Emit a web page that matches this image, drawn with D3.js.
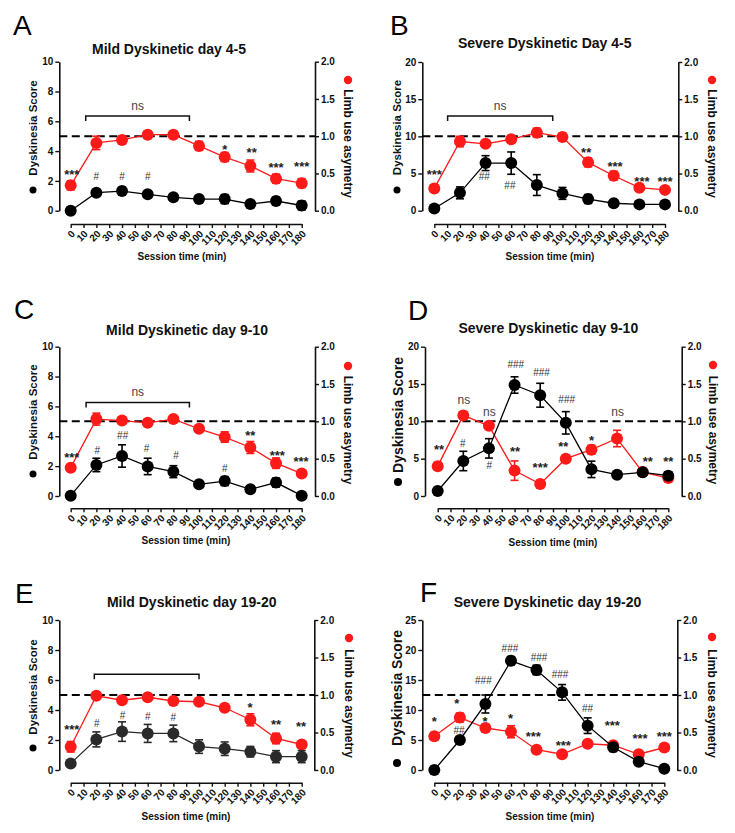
<!DOCTYPE html>
<html><head><meta charset="utf-8">
<script src="https://cdn.jsdelivr.net/npm/d3@7"></script>
<style>body{margin:0;background:#fff} text{font-family:"Liberation Sans",Arial,sans-serif}</style>
</head><body><svg id="c" width="735" height="833"></svg>
<script>
// ---------------- DATA ----------------
const times = [0,20,40,60,80,100,120,140,160,180];
const xTicks = [0,10,20,30,40,50,60,70,80,90,100,110,120,130,140,150,160,170,180];
const rightTicks = [0,0.5,1.0,1.5,2.0];
const letters = ["A","B","C","D","E","F"];
const titles = ["Mild Dyskinetic day 4-5","Severe Dyskinetic Day 4-5","Mild Dyskinetic day 9-10",
                "Severe Dyskinetic day 9-10","Mild Dyskinetic day 19-20","Severe Dyskinetic day 19-20"];
const leftMax = [10,20,10,20,10,25];
const leftTicks = [[0,2,4,6,8,10],[0,5,10,15,20],[0,2,4,6,8,10],[0,5,10,15,20],[0,2,4,6,8,10],[0,5,10,15,20,25]];
const yLabel = "Dyskinesia Score";
const rLabel = "Limb use asymetry";
const xLabel = "Session time (min)";

// Dyskinesia score (left axis) mean / SEM
const dysA = [0,1.21,1.32,1.1,0.9,0.78,0.78,0.45,0.65,0.35];
const dysErrA = [0,0.1,0.25,0.1,0.1,0.1,0.3,0.1,0.25,0.3];
const dysB = [0.3,2.4,6.4,6.4,3.45,2.33,1.57,1.0,0.85,0.85];
const dysErrB = [0.2,0.8,1.0,1.5,1.4,0.8,0.6,0.2,0.2,0.2];
const dysC = [0.02,2.08,2.68,1.98,1.63,0.78,1.0,0.45,0.9,0.02];
const dysErrC = [0.05,0.45,0.75,0.55,0.4,0.15,0.3,0.1,0.3,0.05];
const dysD = [0.67,4.69,6.38,14.87,13.5,9.8,3.57,2.86,3.17,2.72];
const dysErrD = [0.4,1.3,1.3,1.1,1.6,1.5,1.1,0.3,0.4,0.5];
const dysE = [0.44,2.04,2.56,2.44,2.44,1.56,1.42,1.22,0.89,0.89];
const dysErrE = [0.1,0.5,0.65,0.6,0.55,0.45,0.45,0.35,0.4,0.4];
const dysF = [0,5.0,11.0,18.2,16.67,12.94,7.39,3.78,1.39,0.22];
const dysErrF = [0.1,0.5,1.5,0.7,0.8,1.3,1.3,0.7,0.6,0.1];

// Limb use asymmetry (right axis) mean / SEM
const limbA = [0.34,0.91,0.95,1.02,1.02,0.87,0.72,0.60,0.43,0.37];
const limbErrA = [0.06,0.09,0.05,0.05,0.05,0.06,0.06,0.08,0.06,0.06];
const limbB = [0.30,0.93,0.90,0.96,1.05,0.99,0.65,0.47,0.31,0.28];
const limbErrB = [0.05,0.07,0.03,0.03,0.06,0.05,0.06,0.06,0.03,0.03];
const limbC = [0.38,1.03,1.01,0.98,1.03,0.90,0.79,0.65,0.44,0.30];
const limbErrC = [0.04,0.08,0.04,0.04,0.04,0.04,0.07,0.08,0.07,0.04];
const limbD = [0.40,1.08,0.94,0.34,0.16,0.50,0.62,0.77,0.32,0.24];
const limbErrD = [0.05,0.05,0.04,0.13,0.05,0.03,0.06,0.11,0.03,0.03];
const limbE = [0.31,0.99,0.93,0.97,0.92,0.91,0.83,0.67,0.42,0.34];
const limbErrE = [0.07,0.03,0.03,0.03,0.03,0.03,0.03,0.08,0.07,0.03];
const limbF = [0.45,0.70,0.56,0.51,0.27,0.21,0.35,0.33,0.21,0.30];
const limbErrF = [0.05,0.06,0.05,0.08,0.04,0.02,0.02,0.02,0.02,0.02];

// significance annotations: [time, left-axis value, text]
const annA = [[0.8,2.62,"***"],[20,2.28,"#"],[40,2.28,"#"],[60,2.28,"#"],[120,4.3,"*"],[141,4.07,"**"],[160,3.06,"***"],[180,3.18,"***"]];
const annB = [[0,5.25,"***"],[39,4.57,"##"],[59,3.45,"##"],[118.5,8.25,"**"],[141,6.37,"***"],[162,4.35,"***"],[180,4.35,"***"]];
const annC = [[0.8,2.75,"***"],[20.8,3.08,"#"],[40.5,4.08,"##"],[59,3.19,"#"],[82,2.75,"#"],[120,1.85,"#"],[140,4.2,"**"],[161,2.92,"***"],[179.5,2.52,"***"]];
const annD = [[1,6.6,"**"],[20.5,12.77,"ns"],[19.5,7.05,"#"],[40.3,11.16,"ns"],[40.3,4.15,"#"],[61,17.63,"###"],[60.4,6.29,"**"],
              [81,16.5,"###"],[80,4.24,"***"],[100.7,12.95,"###"],[98,6.96,"**"],[120,7.81,"*"],[140.5,11.07,"ns"],[164,5.04,"**"],[180,5.04,"**"]];
const annE = [[0.8,2.89,"***"],[20.3,3.11,"#"],[40.3,3.62,"#"],[60,3.56,"#"],[80,3.51,"#"],[139.7,4.33,"*"],[160,3.22,"**"],[179.5,3.11,"**"]];
const annF = [[0,8.61,"*"],[17.5,11.56,"*"],[19.3,6.67,"##"],[38.4,15.0,"###"],[39.7,8.61,"*"],[59.2,20.28,"###"],[59.7,9.06,"*"],
              [82,18.72,"###"],[77.5,6.11,"***"],[98.4,15.94,"###"],[101,4.56,"***"],[120,10.28,"##"],[139.3,7.89,"***"],[161,5.67,"***"],[180,6.11,"***"]];
// brackets: [start time, end time, left-axis value, label]
const brA = [11.7,92.5,6.35,"ns"];
const brB = [10.4,92.4,12.74,"ns"];
const brC = [12,92.5,6.27,"ns"];
const brE = [18.4,100,6.38,""];

const dys = [dysA,dysB,dysC,dysD,dysE,dysF];
const dysErr = [dysErrA,dysErrB,dysErrC,dysErrD,dysErrE,dysErrF];
const limb = [limbA,limbB,limbC,limbD,limbE,limbF];
const limbErr = [limbErrA,limbErrB,limbErrC,limbErrD,limbErrE,limbErrF];
const anns = [annA,annB,annC,annD,annE,annF];
const brackets = [brA,brB,brC,null,brE,null];

// ---------------- LAYOUT ----------------
const layout = [
 {L:59.3,R:315,top:61.7,bot:210.7,xY:224,x0:70.7,x1:301.7,tX:169,tY:54,lX:13,lY:35,yLX:33,yLCY:128,yDot:190,yFs:11.5,rLX:348,rLCY:143.5,rDot:80,xtX:182,xtY:260},
 {L:422.3,R:678.3,top:62,bot:210.7,xY:224,x0:434.3,x1:665,tX:544.7,tY:48.3,lX:390,lY:35,yLX:397,yLCY:127.5,yDot:190,yFs:11.5,rLX:712,rLCY:143.5,rDot:80,xtX:550,xtY:260},
 {L:59.3,R:315,top:346.7,bot:496,xY:508.3,x0:70.7,x1:301.7,tX:187,tY:335,lX:14,lY:319,yLX:33,yLCY:412,yDot:474,yFs:11.5,rLX:348,rLCY:430,rDot:366,xtX:186,xtY:544},
 {L:425,R:681.7,top:346.7,bot:496,xY:508.3,x0:437.7,x1:668.3,tX:548.3,tY:332.7,lX:408,lY:320,yLX:398,yLCY:415,yDot:482,yFs:14,rLX:713,rLCY:430,rDot:365,xtX:553,xtY:546},
 {L:59.3,R:314.3,top:620,bot:770,xY:782.7,x0:70.7,x1:301.7,tX:191.7,tY:607,lX:15,lY:603,yLX:33,yLCY:687,yDot:748,yFs:11.5,rLX:349,rLCY:703.5,rDot:638,xtX:186,xtY:820},
 {L:422.3,R:677.3,top:620,bot:770,xY:782.7,x0:434.3,x1:664.3,tX:547.5,tY:607,lX:420,lY:602,yLX:397,yLCY:688,yDot:763,yFs:14,rLX:712,rLCY:703.5,rDot:637,xtX:550,xtY:820}
];

const svg = d3.select("#c");
const RED = "#ff1a1a", INK = "#111";

function styleAxis(sel){
  sel.select(".domain").attr("stroke",INK).attr("stroke-width",1.6);
  sel.selectAll(".tick line").attr("stroke",INK).attr("stroke-width",1.4);
  sel.selectAll(".tick text").attr("fill",INK).style("font-size","10px").style("font-weight","bold");
}

layout.forEach((p,i)=>{
  const g = svg.append("g");
  const x = d3.scaleLinear().domain([0,180]).range([p.x0,p.x1]);
  const yL = d3.scaleLinear().domain([0,leftMax[i]]).range([p.bot,p.top]);
  const yR = d3.scaleLinear().domain([0,2]).range([p.bot,p.top]);

  // letter & title
  g.append("text").attr("x",p.lX).attr("y",p.lY).text(letters[i]).style("font-size","28px").attr("fill","#000");
  g.append("text").attr("x",p.tX).attr("y",p.tY).attr("text-anchor","middle").text(titles[i])
    .style("font-size","14px").style("font-weight","bold").attr("fill",INK);

  // axes
  g.append("g").attr("transform",`translate(${p.L},0)`)
    .call(d3.axisLeft(yL).tickValues(leftTicks[i]).tickSize(4).tickPadding(2).tickSizeOuter(0)).call(styleAxis);
  g.append("g").attr("transform",`translate(${p.R},0)`)
    .call(d3.axisRight(yR).tickValues(rightTicks).tickFormat(d3.format(".1f")).tickSize(4).tickPadding(2).tickSizeOuter(0)).call(styleAxis);
  const xa = g.append("g").attr("transform",`translate(0,${p.xY})`)
    .call(d3.axisBottom(x).tickValues(xTicks).tickSize(4).tickSizeOuter(0)).call(styleAxis);
  xa.selectAll(".tick text").attr("x",0).attr("y",0).attr("dy","0.35em")
    .attr("transform","translate(2,8) rotate(-45)").style("text-anchor","end");

  // axis titles
  g.append("text").attr("transform",`translate(${p.yLX},${p.yLCY}) rotate(-90)`).attr("dy","0.35em")
    .attr("text-anchor","middle").text(yLabel).style("font-size",p.yFs+"px").style("font-weight","bold").attr("fill",INK);
  g.append("circle").attr("cx",p.yLX).attr("cy",p.yDot).attr("r",p.yFs>12?4:3.5).attr("fill","#000");
  g.append("text").attr("transform",`translate(${p.rLX},${p.rLCY}) rotate(90)`).attr("dy","0.35em")
    .attr("text-anchor","middle").text(rLabel).style("font-size","12px").style("font-weight","bold").attr("fill",INK);
  g.append("circle").attr("cx",p.rLX).attr("cy",p.rDot).attr("r",4.2).attr("fill",RED);
  g.append("text").attr("x",p.xtX).attr("y",p.xtY).attr("text-anchor","middle").text(xLabel)
    .style("font-size","10px").style("font-weight","bold").attr("fill",INK);

  // dashed reference line at limb = 1.0
  g.append("line").attr("x1",p.L).attr("x2",p.R).attr("y1",yR(1)).attr("y2",yR(1))
    .attr("stroke","#000").attr("stroke-width",2).attr("stroke-dasharray","8,4.5");

  // bracket
  const br = brackets[i];
  if(br){
    const by = yL(br[2]);
    g.append("path").attr("d",`M${x(br[0])},${by+5}V${by}H${x(br[1])}V${by+5}`)
      .attr("fill","none").attr("stroke",INK).attr("stroke-width",1.5);
    if(br[3]) g.append("text").attr("x",(x(br[0])+x(br[1]))/2).attr("y",by-6).attr("text-anchor","middle")
      .text(br[3]).style("font-size","12px").attr("fill","#444");
  }

  // series drawing
  function series(vals, errs, yS, color){
    const pts = times.map((t,k)=>({t, v:vals[k], e:errs[k]}));
    g.append("path").datum(pts).attr("d",d3.line().x(d=>x(d.t)).y(d=>yS(d.v)))
      .attr("fill","none").attr("stroke",color).attr("stroke-width",1.3);
    const eb = g.append("g").selectAll("g").data(pts).join("g").attr("stroke",color).attr("stroke-width",1.6);
    eb.append("line").attr("x1",d=>x(d.t)).attr("x2",d=>x(d.t)).attr("y1",d=>yS(d.v-d.e)).attr("y2",d=>yS(d.v+d.e));
    eb.append("line").attr("x1",d=>x(d.t)-4).attr("x2",d=>x(d.t)+4).attr("y1",d=>yS(d.v-d.e)).attr("y2",d=>yS(d.v-d.e));
    eb.append("line").attr("x1",d=>x(d.t)-4).attr("x2",d=>x(d.t)+4).attr("y1",d=>yS(d.v+d.e)).attr("y2",d=>yS(d.v+d.e));
    g.append("g").selectAll("circle").data(pts).join("circle")
      .attr("cx",d=>x(d.t)).attr("cy",d=>yS(d.v)).attr("r",6).attr("fill",color);
  }
  series(limb[i], limbErr[i], yR, RED);
  series(dys[i], dysErr[i], yL, i===4 ? "#2a2a2a" : "#000");

  // annotations
  anns[i].forEach(a=>{
    const txt = a[2];
    let fs, off, fill, fw;
    if(txt.includes("*")){ fs=13; off=7.2; fill="#222"; fw="bold"; }
    else if(txt.includes("#")){ fs=10; off=3.6; fill="#333"; fw="normal"; }
    else { fs=12; off=3; fill="#444"; fw="normal"; }
    g.append("text").attr("x",x(a[0])).attr("y",yL(a[1])+off).attr("text-anchor","middle").text(txt)
      .style("font-size",fs+"px").style("font-weight",fw).attr("fill",fill);
  });
});
</script></body></html>
